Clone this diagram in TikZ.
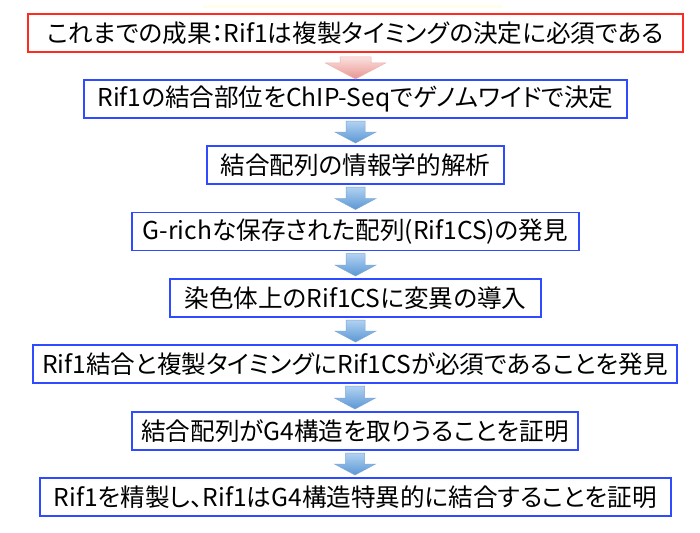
\documentclass[tikz,border=0pt]{standalone}
\usepackage{fontspec}
\setmainfont{Noto Sans CJK JP}[RawFeature={+palt}]
\usetikzlibrary{calc}
\definecolor{boxblue}{HTML}{2F4BFF}
\definecolor{boxred}{HTML}{FF2A20}
\definecolor{arrtop}{HTML}{B2D2F2}
\definecolor{arrbot}{HTML}{5B97D4}
\definecolor{arredge}{HTML}{7AA7DA}
\definecolor{pinktop}{HTML}{FBE0DE}
\definecolor{pinkbot}{HTML}{E8948F}
\definecolor{pinkedge}{HTML}{EDB3AF}
\tikzset{
  stepbox/.style={draw=boxblue, line width=1.8pt, fill=white, outer sep=0pt,
    minimum height=38pt, inner sep=0pt, text=black,
    font=\fontsize{24.6}{30}\selectfont},
  startbox/.style={stepbox, draw=boxred},
  bluearrow/.style={top color=arrtop, bottom color=arrbot, draw=arredge, line width=0.5pt},
  pinkarrow/.style={top color=pinktop, bottom color=pinkbot, draw=pinkedge, line width=0.5pt},
}
% #1 from node, #2 to node, #3 start gap, #4 end gap, #5 shaft half width, #6 head half width, #7 head length, #8 style
\newcommand\flowarrow[8]{%
  \path[#8] let \p1=($(#1.south)+(0,-#3)$), \p2=($(#2.north)+(0,#4)$) in
    (\x1-#5,\y1) -- (\x1+#5,\y1) -- (\x1+#5,\y2+#7) -- (\x1+#6,\y2+#7) -- (\x1,\y2)
    -- (\x1-#6,\y2+#7) -- (\x1-#5,\y2+#7) -- cycle;}
\begin{document}
\begin{tikzpicture}[x=1pt,y=-1pt]
\useasboundingbox[fill=white] (0,0) rectangle (700,532);
\fill[yellow!8] (203,5.5) rectangle (502,8.5);
\node[startbox, minimum width=655pt] (b1) at (355.5,33) {これまでの成果：Rif1は複製タイミングの決定に必須である};
\node[stepbox, minimum width=543pt] (b2) at (355.5,99) {Rif1の結合部位をChIP-Seqでゲノムワイドで決定};
\node[stepbox, minimum width=297pt] (b3) at (355.5,165) {結合配列の情報学的解析};
\node[stepbox, minimum width=447pt] (b4) at (355.5,231.5) {G-richな保存された配列(Rif1CS)の発見};
\node[stepbox, minimum width=371pt] (b5) at (355.5,298) {染色体上のRif1CSに変異の導入};
\node[stepbox, minimum width=644pt] (b6) at (355,364) {Rif1結合と複製タイミングにRif1CSが必須であることを発見};
\node[stepbox, minimum width=446pt] (b7) at (355,431) {結合配列がG4構造を取りうることを証明};
\node[stepbox, minimum width=631pt] (b8) at (355.5,497) {Rif1を精製し、Rif1はG4構造特異的に結合することを証明};
\flowarrow{b1}{b2}{5pt}{1pt}{15.5pt}{30pt}{16pt}{pinkarrow}
\foreach \a/\b in {b2/b3,b3/b4,b4/b5,b5/b6,b6/b7,b7/b8}{
  \flowarrow{\a}{\b}{3pt}{3pt}{9.5pt}{20.5pt}{11pt}{bluearrow}
}
\end{tikzpicture}
\end{document}
